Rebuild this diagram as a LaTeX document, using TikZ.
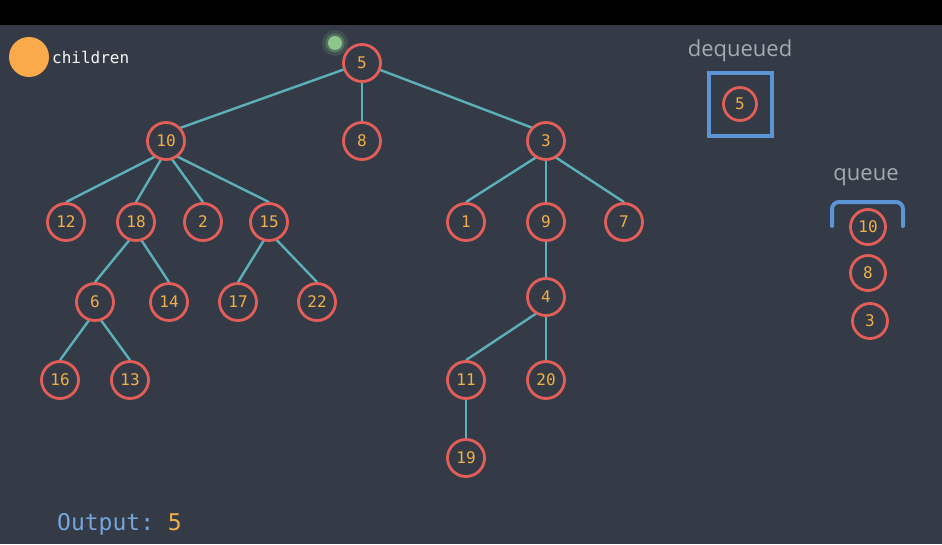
\documentclass[tikz,border=0pt]{standalone}
\usepackage{fontspec}
\setmonofont{DejaVu Sans Mono}
\newfontfamily\labelfont{Open Sans}
\usetikzlibrary{positioning,backgrounds}
\definecolor{bgslate}{HTML}{343B46}
\definecolor{ringred}{HTML}{E45E59}
\definecolor{numorange}{HTML}{F2AE48}
\definecolor{legendorange}{HTML}{FBAA4B}
\definecolor{edgeteal}{HTML}{5CB0B9}
\definecolor{boxblue}{HTML}{5B95D6}
\definecolor{dotgreen}{HTML}{8DC68A}
\definecolor{labelgray}{HTML}{A3AAB2}

\tikzset{
  vtx/.style={circle, draw=ringred, line width=2.8pt, fill=bgslate,
    minimum size=37pt, inner sep=0pt, text=numorange,
    font=\fontsize{16pt}{18pt}\selectfont\ttfamily},
  qvtx/.style={vtx, minimum size=35pt},
  link/.style={draw=edgeteal, line width=2.4pt},
  caption/.style={text=labelgray, font=\fontsize{22pt}{24pt}\selectfont\labelfont}
}

\begin{document}
\begin{tikzpicture}[x=1pt, y=1pt, node distance=78pt, on grid]
% background and top bar
\begin{scope}[on background layer]
\fill[bgslate] (0,0) rectangle (942,-544);
\fill[black] (0,0) rectangle (942,-25);
\end{scope}
\useasboundingbox (0,0) rectangle (942,-544);

% legend
\node[circle, fill=legendorange, minimum size=40pt, inner sep=0pt] (legend) at (29,-57) {};
\node[anchor=west, text=white!92!gray, inner sep=0pt,
  font=\fontsize{16pt}{18pt}\selectfont\ttfamily] (legendtxt) at (52,-57) {children};

% cursor dot
\fill[dotgreen, opacity=0.15] (335,-43) circle (13);
\fill[dotgreen, opacity=0.3] (335,-43) circle (9.5);
\fill[dotgreen] (335,-43) circle (7);

% tree
\node[vtx] (n5) at (362,-63) {5};
\node[vtx, below=of n5] (n8) {8};
\node[vtx, left=196pt of n8] (n10) {10};
\node[vtx, right=184pt of n8] (n3) {3};
\node[vtx, below left=81pt and 100pt of n10] (n12) {12};
\node[vtx, below left=81pt and 30pt of n10] (n18) {18};
\node[vtx, below right=81pt and 37pt of n10] (n2) {2};
\node[vtx, below right=81pt and 103pt of n10] (n15) {15};
\node[vtx, below left=81pt and 80pt of n3] (n1) {1};
\node[vtx, below=81pt of n3] (n9) {9};
\node[vtx, below right=81pt and 78pt of n3] (n7) {7};
\node[vtx, below left=80pt and 41pt of n18] (n6) {6};
\node[vtx, below right=80pt and 33pt of n18] (n14) {14};
\node[vtx, below left=80pt and 31pt of n15] (n17) {17};
\node[vtx, below right=80pt and 48pt of n15] (n22) {22};
\node[vtx, below=75pt of n9] (n4) {4};
\node[vtx, below left=78pt and 35pt of n6] (n16) {16};
\node[vtx, below right=78pt and 35pt of n6] (n13) {13};
\node[vtx, below left=83pt and 80pt of n4] (n11) {11};
\node[vtx, below=83pt of n4] (n20) {20};
\node[vtx, below=of n11] (n19) {19};

\begin{scope}[on background layer]
\foreach \b in {n10, n8, n3}
  \draw[link] (n5.center) -- ([yshift=8pt]\b.center);
\foreach \a/\b in {n10/n12, n10/n18, n10/n2, n10/n15,
  n3/n1, n3/n9, n3/n7, n18/n6, n18/n14, n15/n17, n15/n22, n9/n4,
  n6/n16, n6/n13, n4/n11, n4/n20, n11/n19}
  \draw[link] ([yshift=-10pt]\a.center) -- (\b.north);
\end{scope}

% dequeued
\node[caption] (deqtxt) at (740,-51) {dequeued};
\node[qvtx, minimum size=33pt] (deq5) at (740,-104) {5};
\draw[boxblue, line width=4pt] (709,-73) rectangle (772,-136);

% queue
\node[caption] (queuetxt) at (866,-177) {queue};
\draw[boxblue, line width=4pt, line cap=round]
  (832,-226) -- (832,-209) arc (180:90:7) -- (896,-202) arc (90:0:7) -- (903,-226);
\node[qvtx] (q10) at (868,-227) {10};
\node[qvtx] (q8) at (868,-273) {8};
\node[qvtx] (q3) at (870,-321) {3};

% output
\node[anchor=west, inner sep=0pt, font=\fontsize{23pt}{26pt}\selectfont\ttfamily] (output)
  at (57,-524) {\textcolor{boxblue!85!white}{Output:} \textcolor{numorange}{5}};
\end{tikzpicture}
\end{document}
